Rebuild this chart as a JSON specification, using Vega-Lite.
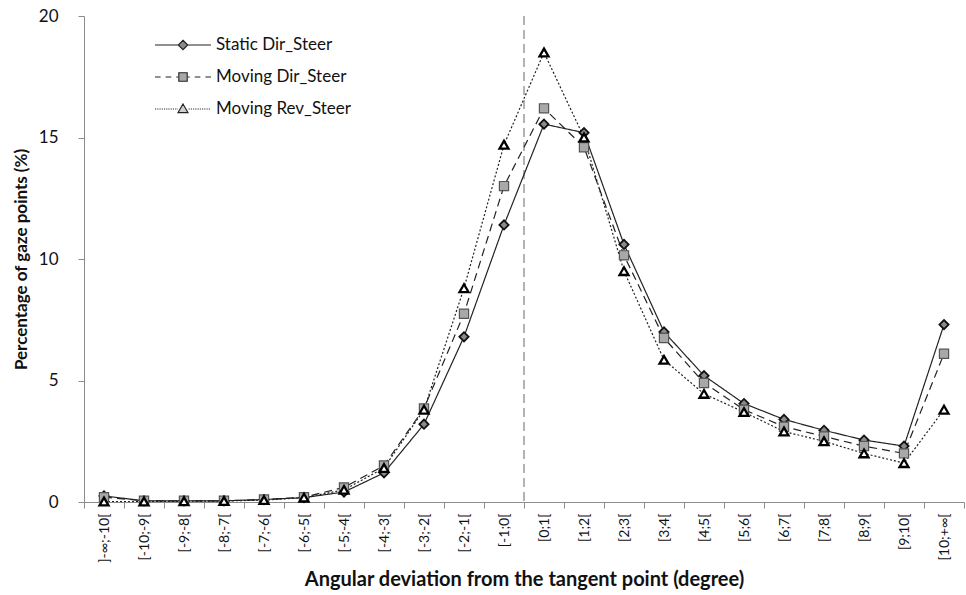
{
  "$schema": "https://vega.github.io/schema/vega-lite/v6.json",
  "width": 880,
  "height": 486,
  "padding": {"top": 7, "left": 12, "right": 0, "bottom": 0},
  "background": "white",
  "config": {
    "view": {"stroke": null},
    "font": "Lato",
    "axis": {"labelFont": "Lato", "titleFont": "Lato", "labelColor": "#111", "titleColor": "#111", "domainColor": "#8c8c8c", "tickColor": "#8c8c8c", "grid": false}
  },
  "datasets": {
    "gaze": [
      {"bin": "]-∞;-10[", "series": "Static Dir_Steer", "value": 0.25},
      {"bin": "[-10;-9[", "series": "Static Dir_Steer", "value": 0.05},
      {"bin": "[-9;-8[", "series": "Static Dir_Steer", "value": 0.05},
      {"bin": "[-8;-7[", "series": "Static Dir_Steer", "value": 0.05},
      {"bin": "[-7;-6[", "series": "Static Dir_Steer", "value": 0.1},
      {"bin": "[-6;-5[", "series": "Static Dir_Steer", "value": 0.18},
      {"bin": "[-5;-4[", "series": "Static Dir_Steer", "value": 0.41},
      {"bin": "[-4;-3[", "series": "Static Dir_Steer", "value": 1.2},
      {"bin": "[-3;-2[", "series": "Static Dir_Steer", "value": 3.2},
      {"bin": "[-2;-1[", "series": "Static Dir_Steer", "value": 6.8},
      {"bin": "[-1;0[", "series": "Static Dir_Steer", "value": 11.4},
      {"bin": "[0;1[", "series": "Static Dir_Steer", "value": 15.55},
      {"bin": "[1;2[", "series": "Static Dir_Steer", "value": 15.2},
      {"bin": "[2;3[", "series": "Static Dir_Steer", "value": 10.6},
      {"bin": "[3;4[", "series": "Static Dir_Steer", "value": 7.0},
      {"bin": "[4;5[", "series": "Static Dir_Steer", "value": 5.2},
      {"bin": "[5;6[", "series": "Static Dir_Steer", "value": 4.05},
      {"bin": "[6;7[", "series": "Static Dir_Steer", "value": 3.4},
      {"bin": "[7;8[", "series": "Static Dir_Steer", "value": 2.95},
      {"bin": "[8;9[", "series": "Static Dir_Steer", "value": 2.55},
      {"bin": "[9;10[", "series": "Static Dir_Steer", "value": 2.3},
      {"bin": "[10;+∞[", "series": "Static Dir_Steer", "value": 7.3},
      {"bin": "]-∞;-10[", "series": "Moving Dir_Steer", "value": 0.2},
      {"bin": "[-10;-9[", "series": "Moving Dir_Steer", "value": 0.05},
      {"bin": "[-9;-8[", "series": "Moving Dir_Steer", "value": 0.05},
      {"bin": "[-8;-7[", "series": "Moving Dir_Steer", "value": 0.05},
      {"bin": "[-7;-6[", "series": "Moving Dir_Steer", "value": 0.1},
      {"bin": "[-6;-5[", "series": "Moving Dir_Steer", "value": 0.2},
      {"bin": "[-5;-4[", "series": "Moving Dir_Steer", "value": 0.6},
      {"bin": "[-4;-3[", "series": "Moving Dir_Steer", "value": 1.5},
      {"bin": "[-3;-2[", "series": "Moving Dir_Steer", "value": 3.85},
      {"bin": "[-2;-1[", "series": "Moving Dir_Steer", "value": 7.75},
      {"bin": "[-1;0[", "series": "Moving Dir_Steer", "value": 13.0},
      {"bin": "[0;1[", "series": "Moving Dir_Steer", "value": 16.2},
      {"bin": "[1;2[", "series": "Moving Dir_Steer", "value": 14.6},
      {"bin": "[2;3[", "series": "Moving Dir_Steer", "value": 10.15},
      {"bin": "[3;4[", "series": "Moving Dir_Steer", "value": 6.75},
      {"bin": "[4;5[", "series": "Moving Dir_Steer", "value": 4.9},
      {"bin": "[5;6[", "series": "Moving Dir_Steer", "value": 3.8},
      {"bin": "[6;7[", "series": "Moving Dir_Steer", "value": 3.1},
      {"bin": "[7;8[", "series": "Moving Dir_Steer", "value": 2.7},
      {"bin": "[8;9[", "series": "Moving Dir_Steer", "value": 2.3},
      {"bin": "[9;10[", "series": "Moving Dir_Steer", "value": 2.0},
      {"bin": "[10;+∞[", "series": "Moving Dir_Steer", "value": 6.1},
      {"bin": "]-∞;-10[", "series": "Moving Rev_Steer", "value": 0.02},
      {"bin": "[-10;-9[", "series": "Moving Rev_Steer", "value": 0.02},
      {"bin": "[-9;-8[", "series": "Moving Rev_Steer", "value": 0.03},
      {"bin": "[-8;-7[", "series": "Moving Rev_Steer", "value": 0.04},
      {"bin": "[-7;-6[", "series": "Moving Rev_Steer", "value": 0.08},
      {"bin": "[-6;-5[", "series": "Moving Rev_Steer", "value": 0.18},
      {"bin": "[-5;-4[", "series": "Moving Rev_Steer", "value": 0.5},
      {"bin": "[-4;-3[", "series": "Moving Rev_Steer", "value": 1.4},
      {"bin": "[-3;-2[", "series": "Moving Rev_Steer", "value": 3.8},
      {"bin": "[-2;-1[", "series": "Moving Rev_Steer", "value": 8.8},
      {"bin": "[-1;0[", "series": "Moving Rev_Steer", "value": 14.7},
      {"bin": "[0;1[", "series": "Moving Rev_Steer", "value": 18.5},
      {"bin": "[1;2[", "series": "Moving Rev_Steer", "value": 15.0},
      {"bin": "[2;3[", "series": "Moving Rev_Steer", "value": 9.5},
      {"bin": "[3;4[", "series": "Moving Rev_Steer", "value": 5.85},
      {"bin": "[4;5[", "series": "Moving Rev_Steer", "value": 4.45},
      {"bin": "[5;6[", "series": "Moving Rev_Steer", "value": 3.7},
      {"bin": "[6;7[", "series": "Moving Rev_Steer", "value": 2.9},
      {"bin": "[7;8[", "series": "Moving Rev_Steer", "value": 2.5},
      {"bin": "[8;9[", "series": "Moving Rev_Steer", "value": 2.0},
      {"bin": "[9;10[", "series": "Moving Rev_Steer", "value": 1.6},
      {"bin": "[10;+∞[", "series": "Moving Rev_Steer", "value": 3.8}
    ],
    "empty": []
  },
  "data": {"name": "gaze"},
  "encoding": {
    "x": {
      "field": "bin", "type": "ordinal", "bandPosition": 0.5,
      "scale": {"type": "band", "paddingInner": 0, "paddingOuter": 0,
        "domain": ["]-∞;-10[", "[-10;-9[", "[-9;-8[", "[-8;-7[", "[-7;-6[", "[-6;-5[", "[-5;-4[", "[-4;-3[", "[-3;-2[", "[-2;-1[", "[-1;0[", "[0;1[", "[1;2[", "[2;3[", "[3;4[", "[4;5[", "[5;6[", "[6;7[", "[7;8[", "[8;9[", "[9;10[", "[10;+∞["]},
      "axis": {"title": "Angular deviation from the tangent point (degree)", "titleFontSize": 20, "titleFontWeight": "bold", "titlePadding": 7, "labelAngle": -90, "labelFontSize": 14, "labelPadding": 5, "tickSize": 6, "tickBand": "extent"}
    },
    "y": {
      "field": "value", "type": "quantitative",
      "scale": {"domain": [0, 20], "nice": false},
      "axis": {"title": "Percentage of gaze points (%)", "titleFontSize": 17, "titleFontWeight": "bold", "titlePadding": 8, "values": [0, 5, 10, 15, 20], "labelFontSize": 17, "labelPadding": 20, "tickSize": 6}
    }
  },
  "layer": [
    {
      "mark": {"type": "rule", "color": "#b3b3b3", "strokeDash": [9, 5], "strokeWidth": 1.2},
      "encoding": {
        "x": {"datum": "[0;1[", "type": "ordinal", "bandPosition": 0},
        "y": null
      }
    },
    {
      "mark": {"type": "line", "color": "#222", "strokeWidth": 1.2},
      "encoding": {
        "detail": {"field": "series"},
        "strokeDash": {"field": "series", "type": "nominal",
          "scale": {"domain": ["Static Dir_Steer", "Moving Dir_Steer", "Moving Rev_Steer"], "range": [[1, 0], [8, 5], [2, 2]]},
          "legend": null}
      }
    },
    {
      "mark": {"type": "point", "filled": true, "opacity": 1},
      "encoding": {
        "shape": {"field": "series", "type": "nominal",
          "scale": {"domain": ["Static Dir_Steer", "Moving Dir_Steer", "Moving Rev_Steer"], "range": ["diamond", "square", "triangle-up"]},
          "legend": null},
        "fill": {"field": "series", "type": "nominal",
          "scale": {"domain": ["Static Dir_Steer", "Moving Dir_Steer", "Moving Rev_Steer"], "range": ["#8a8a8a", "#a8a8a8", "#ffffff"]},
          "legend": null},
        "stroke": {"field": "series", "type": "nominal",
          "scale": {"domain": ["Static Dir_Steer", "Moving Dir_Steer", "Moving Rev_Steer"], "range": ["#111111", "#555555", "#000000"]},
          "legend": null},
        "size": {"field": "series", "type": "nominal",
          "scale": {"type": "ordinal", "domain": ["Static Dir_Steer", "Moving Dir_Steer", "Moving Rev_Steer"], "range": [85, 85, 80]},
          "legend": null},
        "strokeWidth": {"field": "series", "type": "nominal",
          "scale": {"type": "ordinal", "domain": ["Static Dir_Steer", "Moving Dir_Steer", "Moving Rev_Steer"], "range": [1.8, 1.2, 2.3]},
          "legend": null}
      }
    },
    {
      "data": {"name": "empty"},
      "mark": {"type": "point", "filled": true, "stroke": "#222", "strokeWidth": 1.2, "size": 3136, "opacity": 1},
      "encoding": {
        "x": null,
        "y": null,
        "shape": {"field": "series", "type": "nominal",
          "scale": {"domain": ["Static Dir_Steer", "Moving Dir_Steer", "Moving Rev_Steer"],
            "range": [
              "M-1,0L-0.18,0M0.18,0L1,0M0,-0.17L0.17,0L0,0.17L-0.17,0Z",
              "M-1,0L-0.8,0M-0.62,0L-0.42,0M-0.24,0L-0.18,0M0.18,0L0.24,0M0.42,0L0.62,0M0.8,0L1,0M-0.15,-0.15L0.15,-0.15L0.15,0.15L-0.15,0.15Z",
              "M-1,0L-0.96,0M-0.92,0L-0.88,0M-0.84,0L-0.8,0M-0.76,0L-0.72,0M-0.68,0L-0.64,0M-0.6,0L-0.56,0M-0.52,0L-0.48,0M-0.44,0L-0.4,0M-0.36,0L-0.32,0M-0.28,0L-0.24,0M-0.2,0L-0.18,0M0.2,0L0.24,0M0.28,0L0.32,0M0.36,0L0.4,0M0.44,0L0.48,0M0.52,0L0.56,0M0.6,0L0.64,0M0.68,0L0.72,0M0.76,0L0.8,0M0.84,0L0.88,0M0.92,0L0.96,0M0,-0.18L0.18,0.13L-0.18,0.13Z"
            ]},
          "legend": {"title": null, "orient": "none", "legendX": 70, "legendY": 19, "labelFontSize": 17, "labelFont": "Lato", "labelColor": "#111", "symbolSize": 3136, "clipHeight": 20, "rowPadding": 12, "labelOffset": 4, "symbolStrokeWidth": 1.1}},
        "fill": {"field": "series", "type": "nominal",
          "scale": {"domain": ["Static Dir_Steer", "Moving Dir_Steer", "Moving Rev_Steer"], "range": ["#8a8a8a", "#a8a8a8", "#d0d0d0"]}}
      }
    }
  ],
  "resolve": {"scale": {"shape": "independent", "fill": "independent", "size": "independent", "strokeWidth": "independent"}, "legend": {"shape": "independent", "fill": "independent"}}
}
